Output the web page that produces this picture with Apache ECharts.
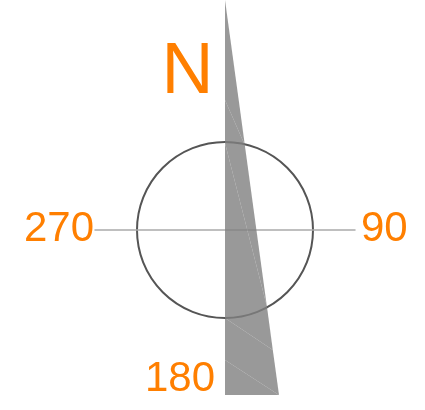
<!DOCTYPE html>
<html>
<head>
<meta charset="UTF-8">
<title>Compass</title>
<script src="https://cdn.jsdelivr.net/npm/echarts@6/dist/echarts.min.js"></script>
<style>
  html, body { margin: 0; padding: 0; background: #fff; }
  #main { width: 425px; height: 410px; }
</style>
</head>
<body>
<div id="main"></div>
<script>
// compass labels
var labelNorth = 'N';
var labelEast = '90';
var labelSouth = '180';
var labelWest = '270';

// wedge pieces, boundaries from top to bottom (data units)
var seamLeftY  = [2.30, 1.30, 1.30, 0.87, -0.80, -0.88, -1.25, -1.30, -1.65];
var seamRightY = [2.30, 1.30, 0.85, -0.76, -0.80, -1.20, -1.25, -1.65, -1.65];
var seamRightX = [0, 0.137, 0.198, 0.418, 0.424, 0.478, 0.485, 0.540, 0.540];

var orange = '#ff7f00';
var font = '"Liberation Sans", Arial, sans-serif';

var pieces = [];
for (var i = 0; i < seamLeftY.length - 1; i++) {
  pieces.push([0, seamLeftY[i]]);
}

var chart = echarts.init(document.getElementById('main'));

chart.setOption({
  animation: false,
  polar: { center: [225, 230], radius: 88 },
  angleAxis: {
    type: 'value', min: 0, max: 360, startAngle: 90,
    axisLine: { lineStyle: { color: '#555', width: 2 } },
    axisTick: { show: false },
    axisLabel: { show: false },
    splitLine: { show: false }
  },
  radiusAxis: { type: 'value', min: 0, max: 1, show: false },
  grid: { left: 95, right: 70, top: 0, bottom: 15 },
  xAxis: {
    type: 'value', min: -1.3, max: 1.3,
    axisLine: { onZero: true, lineStyle: { color: '#aaa', width: 1.5 } },
    axisTick: { show: false },
    axisLabel: { show: false },
    splitLine: { show: false }
  },
  yAxis: {
    type: 'value', min: -1.65, max: 2.30,
    axisLine: { show: false },
    axisTick: { show: false },
    axisLabel: { show: false },
    splitLine: { show: false }
  },
  series: [{
    type: 'custom',
    coordinateSystem: 'cartesian2d',
    data: pieces,
    renderItem: function (params, api) {
      var k = params.dataIndex;
      var pts = [
        [0, seamLeftY[k]],
        [seamRightX[k], seamRightY[k]],
        [seamRightX[k + 1], seamRightY[k + 1]],
        [0, seamLeftY[k + 1]]
      ].map(function (p) { return api.coord(p); });
      return {
        type: 'polygon',
        shape: { points: pts },
        style: { fill: 'rgba(128,128,128,0.8)' }
      };
    }
  }],
  graphic: [
    { type: 'text', z: 10, style: { text: labelNorth, x: 187.5, y: 73, align: 'center', verticalAlign: 'middle', font: '72px ' + font, fill: orange } },
    { type: 'text', z: 10, style: { text: labelWest, x: 24, y: 229, align: 'left', verticalAlign: 'middle', font: '42px ' + font, fill: orange } },
    { type: 'text', z: 10, style: { text: labelEast, x: 361, y: 229, align: 'left', verticalAlign: 'middle', font: '42px ' + font, fill: orange } },
    { type: 'text', z: 10, style: { text: labelSouth, x: 215, y: 379, align: 'right', verticalAlign: 'middle', font: '42px ' + font, fill: orange } }
  ]
});
</script>
</body>
</html>
